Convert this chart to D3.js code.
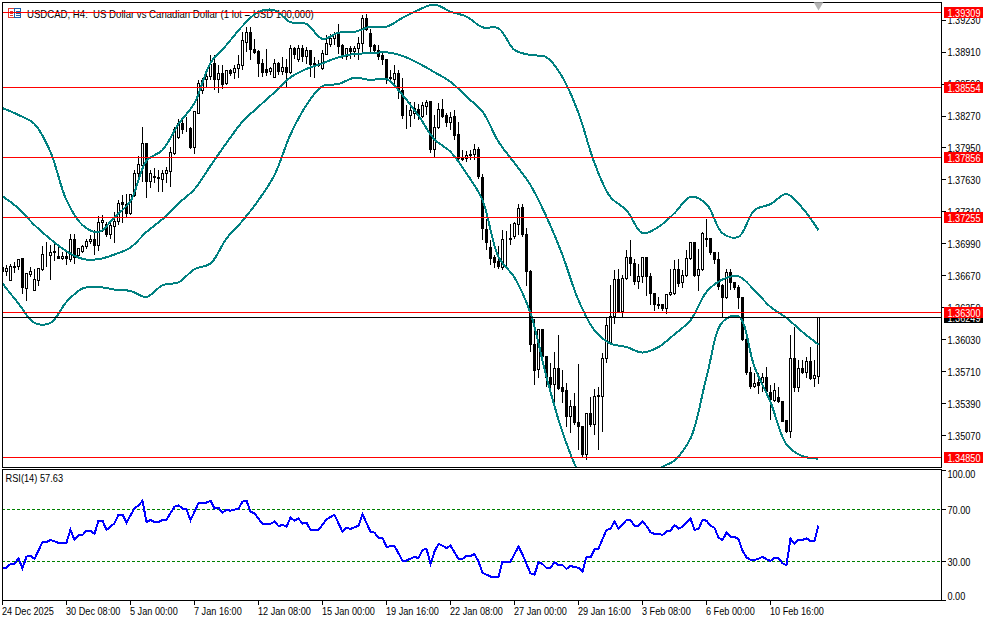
<!DOCTYPE html>
<html><head><meta charset="utf-8">
<script src="https://cdn.jsdelivr.net/npm/d3@7"></script>
<style>html,body{margin:0;padding:0;background:#fff}svg{display:block}text{font-family:"Liberation Sans",sans-serif;font-size:10.5px;fill:#000}</style>
</head><body><div id="chart"></div>
<script>
const titleText="USDCAD, H4:  US Dollar vs Canadian Dollar (1 lot = USD 100,000)";
const rsiLabel="RSI(14) 57.63";
const timeLabels=["24 Dec 2025","30 Dec 08:00","5 Jan 00:00","7 Jan 16:00","12 Jan 08:00","15 Jan 00:00","19 Jan 16:00","22 Jan 08:00","27 Jan 00:00","29 Jan 16:00","3 Feb 08:00","6 Feb 00:00","10 Feb 16:00"];
const priceTicks=[1.3923,1.3891,1.3859,1.3827,1.3795,1.3763,1.3731,1.3699,1.3667,1.3635,1.3603,1.3571,1.3539,1.3507];
const levels=[1.39309,1.38554,1.37856,1.37255,1.363,1.3485];
const lastPrice=1.36249;
const rsiTicks=[100,70,30,0];
const rsiLevels=[70,30];
const opens=[136755,136715,136625,136765,136759,136839,136545,136679,136525,136625,
136732,136882,136872,136912,136865,136842,136865,136832,137038,136872,
136912,136962,137012,137038,136972,137205,137182,137082,137165,137215,
137408,137388,137291,137471,137693,137776,137992,137616,137666,137656,
137633,137693,137710,137893,138059,138199,138149,138142,137956,138299,
138525,138632,138665,138798,138632,138692,138599,138722,138705,138748,
138778,139008,139108,138938,138915,138798,138732,138715,138658,138798,
138712,138758,138708,138948,138838,138948,138865,138922,138782,138775,
138748,138882,138981,139048,139098,138971,138865,138948,138915,138941,
138991,139248,139091,138971,138925,138872,138838,138652,138632,138692,
138525,138280,138275,138299,138332,138265,138365,138415,137939,138159,
138332,138272,138206,138265,138082,137849,137849,137889,137883,137933,
137659,137138,136958,136852,136812,136758,137031,137048,137065,137188,
137358,137081,136712,135983,135733,136132,135866,135650,135583,135739,
135550,135520,135267,135360,135207,135160,134884,135293,135180,135460,
135460,135839,135989,136259,136632,136316,136639,136852,136792,136615,
136659,136852,136659,136492,136385,136382,136345,136479,136492,136732,
136599,136672,136848,137005,136672,136738,137048,137048,136908,136838,
136572,136449,136705,136605,136555,136449,136032,135706,135560,135600,
135600,135650,135500,135426,135450,135410,135223,135117,135839,135556,
135739,135699,135809,135646,135666];
const highs=[136765,136782,136789,136815,136839,136849,136689,136759,136745,136739,
136972,137015,136982,136992,136965,136915,136915,137092,137092,136948,
136982,137048,137082,137132,137271,137281,137215,137205,137315,137431,
137481,137491,137491,137731,137873,138166,138000,137733,137750,137733,
137733,137766,137966,138166,138249,138266,138266,138166,138316,138632,
138658,138715,138882,138882,138782,138782,138732,138748,138782,138882,
139115,139165,139165,139048,138932,138848,138948,138765,138848,138815,
138865,138848,138981,138965,138981,138981,138965,138932,138865,138832,
138932,139081,139098,139115,139198,138991,138955,138971,138971,139065,
139288,139291,139148,138998,138981,138915,138838,138738,138788,138738,
138658,138382,138415,138415,138399,138415,138432,138415,138289,138405,
138449,138305,138315,138339,138216,137939,137926,137933,137999,137966,
137699,137248,137032,136882,136972,137131,137125,137198,137215,137398,
137398,137158,136738,136239,136139,136139,135873,135799,135916,136082,
135733,135600,135433,135500,135793,135167,135300,135466,135540,135566,
135899,136259,136582,136738,136748,136682,136938,137032,136848,136798,
136865,136865,136699,136499,136459,136382,136482,136748,136838,136848,
136732,136932,137015,137015,136948,137115,137248,137055,136915,136915,
136589,136748,136748,136615,136582,136459,136049,135766,135700,135700,
135700,135766,135583,135600,135566,135416,135233,136082,136166,135833,
135833,135866,135966,135833,136249];
const lows=[136682,136672,136625,136699,136732,136492,136426,136659,136525,136572,
136725,136765,136632,136825,136845,136832,136782,136815,136792,136849,
136899,136948,136992,136882,136922,137115,137065,137048,137005,137182,
137208,137265,137281,137465,137616,137616,137450,137550,137600,137516,
137516,137600,137566,137883,138049,138099,138116,137949,137893,138299,
138499,138558,138632,138539,138505,138548,138582,138672,138642,138658,
138738,138915,138832,138898,138665,138665,138672,138682,138658,138682,
138682,138558,138698,138848,138815,138815,138798,138665,138658,138765,
138738,138882,138965,138981,138898,138848,138838,138848,138865,138838,
138898,139121,138898,138905,138838,138782,138598,138615,138582,138449,
138249,138149,138166,138249,138232,138259,138282,137906,137866,138149,
138259,138166,138139,138032,137839,137823,137816,137833,137833,137649,
137033,136938,136782,136758,136748,136732,136765,136982,137048,137081,
137065,136572,135916,135583,135650,135849,135566,135533,135400,135533,
135400,135167,135100,135183,134934,134850,134827,135167,135083,134934,
135117,135799,135983,136192,136299,136249,136632,136672,136582,136539,
136605,136472,136382,136325,136339,136325,136292,136472,136482,136565,
136549,136665,136838,136659,136525,136725,136965,136882,136792,136532,
136249,136439,136532,136532,136339,136026,135683,135540,135550,135493,
135516,135500,135233,135416,135400,135210,135100,135050,135516,135516,
135693,135650,135633,135560,135593];
const closes=[136715,136739,136759,136752,136832,136549,136689,136709,136632,136739,
136882,136885,136905,136899,136845,136865,136845,137038,136849,136948,
136968,137018,137038,136972,137208,137225,137082,137175,137215,137398,
137388,137291,137481,137691,137783,137992,137616,137693,137650,137640,
137693,137720,137900,138132,138199,138132,138140,137956,138316,138599,
138625,138665,138788,138632,138692,138582,138722,138692,138748,138782,
139021,139108,138932,138905,138798,138705,138705,138748,138798,138715,
138758,138708,138948,138882,138948,138865,138922,138788,138798,138782,
138892,138998,139048,139088,138965,138865,138948,138915,138948,138998,
139248,139131,138965,138921,138865,138832,138658,138645,138692,138525,
138272,138278,138322,138349,138275,138372,138409,137933,138159,138332,
138265,138206,138259,138076,137849,137833,137879,137873,137933,137666,
137140,137000,136845,136805,136765,137038,137036,137031,137191,137348,
137081,136715,135983,135726,136132,135866,135650,135583,135739,135546,
135516,135267,135360,135207,135160,134884,135293,135180,135460,135473,
135839,136172,136259,136632,136316,136639,136858,136792,136615,136659,
136852,136659,136492,136382,136378,136342,136482,136499,136732,136592,
136678,136848,137005,136675,136738,137098,137038,136905,136838,136565,
136449,136705,136605,136555,136449,136032,135706,135566,135590,135576,
135650,135516,135433,135523,135410,135217,135117,135839,135556,135739,
135699,135809,135643,135676,136249];
const bandBars=[0,4,8,12,16,20,24,28,32,36,40,44,48,52,56,60,64,68,72,76,80,84,88,92,96,100,104,108,112,116,120,124,128,132,136,140,144,148,152,156,160,164,168,172,176,180,184,188,192,196,200,204];
const bandUpper=[138350,138280,138190,137909,137428,137178,137107,137258,137418,137822,137929,138190,138400,138801,138981,139171,139312,139329,139209,139192,139041,139104,139111,139164,139164,139252,139332,139385,139315,139265,139158,139148,138931,138881,138858,138657,138300,137799,137458,137328,137097,137160,137298,137461,137388,137097,137060,137328,137388,137488,137348,137127];
const bandMiddle=[137468,137345,137178,137037,136917,136840,136837,136884,136954,137110,137238,137395,137538,137772,138000,138213,138363,138507,138657,138741,138798,138858,138891,138898,138908,138871,138798,138708,138613,138463,138313,138012,137799,137578,137261,136877,136426,136125,135992,135958,135902,135958,136085,136226,136509,136633,136666,136526,136359,136249,136108,135982];
const bandLower=[136593,136393,136199,136199,136409,136543,136559,136533,136519,136459,136576,136606,136737,136794,137044,137221,137428,137679,138086,138380,138570,138590,138653,138630,138640,138480,138273,138036,137912,137696,137428,136860,136653,136296,135658,135106,134703,134472,134322,134222,134172,134723,134823,135043,135654,136209,136266,135758,135407,134983,134866,134840];
const rsiBars=[0,1,2,3,4,5,6,7,8,10,11,12,14,16,17,18,19,20,21,22,23,24,25,26,28,29,30,31,33,34,35,36,37,38,39,40,41,43,44,45,46,47,49,51,52,53,54,55,56,57,59,60,61,62,63,65,67,68,69,70,71,72,73,74,75,76,77,79,81,83,85,86,87,89,90,92,93,94,95,96,98,100,101,103,104,105,106,107,108,109,110,111,112,114,115,116,117,118,119,120,122,124,125,127,129,130,131,132,133,134,135,136,137,138,139,140,141,142,143,144,145,146,147,148,149,150,151,152,153,154,156,157,158,159,160,161,162,163,164,165,166,167,168,169,170,172,173,174,175,176,177,178,179,180,181,182,183,184,185,186,187,188,189,190,191,192,193,194,195,196,197,198,199,200,201,202,203,204];
const rsiValues=[24.8,25.3,28.1,28.4,32.2,24.8,33.7,34.5,32.0,45.0,45.0,46.6,44.3,44.5,54.5,46.6,50.4,50.4,53.7,53.7,51.2,61.4,61.4,54.3,59.4,66.0,66.0,59.9,70.9,73.0,76.8,60.4,61.9,60.4,60.4,61.9,62.2,72.2,73.2,70.7,70.4,61.7,75.0,75.3,76.8,70.7,71.4,67.6,69.6,69.1,70.7,76.0,76.8,68.4,67.1,58.9,58.9,60.7,57.3,58.1,56.8,63.7,61.4,63.0,59.1,59.9,54.3,54.3,62.5,66.0,52.7,56.0,55.0,57.6,66.3,53.0,52.2,48.3,48.1,41.4,41.9,30.7,30.7,33.7,32.5,38.9,39.9,28.1,37.6,43.5,42.2,40.4,42.2,32.0,32.0,34.3,34.3,35.8,29.9,21.4,18.4,18.4,29.9,29.9,41.4,35.5,28.1,20.9,19.9,29.4,28.1,25.0,25.0,29.4,27.3,27.3,24.2,26.8,25.5,25.3,22.2,33.7,33.2,39.4,39.9,47.1,54.3,55.3,60.7,55.3,61.9,61.9,57.3,57.3,60.7,57.3,52.5,51.2,51.2,50.4,53.2,53.7,58.1,55.3,56.8,63.0,54.3,55.0,61.9,61.4,57.6,56.0,48.3,46.6,52.2,49.1,49.1,47.1,38.4,33.2,31.2,31.2,32.2,33.7,31.7,30.4,33.0,32.5,28.6,27.3,47.6,43.5,46.6,46.6,47.8,45.8,45.8,57.63];

const W=994,H=622,left=2,right=941,mainTop=2,mainBottom=467,rsiTop=469,rsiBottom=600;
const svg=d3.select("#chart").append("svg").attr("width",W).attr("height",H);
const x=d3.scaleLinear().domain([0,204]).range([2.5,818.5]);
const y=d3.scaleLinear().domain([1.39309,1.3485]).range([12.2,457.7]);
const yRsi=d3.scaleLinear().domain([0,100]).range([600.5,470.5]);
const snap=v=>Math.floor(v)+.5;
const P=v=>v/100000;
const fit=(sel,ratio)=>sel.each(function(){const n=this.getComputedTextLength();d3.select(this).attr("textLength",n*ratio).attr("lengthAdjust","spacingAndGlyphs");});
svg.append("defs").append("clipPath").attr("id","mainClip").append("rect").attr("x",left+1).attr("y",mainTop+1).attr("width",right-left-1).attr("height",mainBottom-mainTop-1);
svg.select("defs").append("clipPath").attr("id","rsiClip").append("rect").attr("x",left+1).attr("y",rsiTop+1).attr("width",right-left-1).attr("height",rsiBottom-rsiTop-1);

// title and icon sit under the marks
const icon=svg.append("g").attr("shape-rendering","crispEdges").attr("fill","none");
icon.append("rect").attr("x",8.5).attr("y",8.5).attr("width",6).attr("height",9).attr("stroke","#e03a30");
icon.append("rect").attr("x",14.5).attr("y",8.5).attr("width",6).attr("height",9).attr("stroke","#1a5fa8");
[11,13,15].forEach(v=>{icon.append("path").attr("d",`M10 ${v}.5H13`).attr("stroke","#e03a30");icon.append("path").attr("d",`M16 ${v}.5H20`).attr("stroke","#1a5fa8");});
fit(svg.append("text").attr("x",27).attr("y",17.5).style("white-space","pre").text(titleText),.914);

// candles
const main=svg.append("g").attr("clip-path","url(#mainClip)");
const candles=main.append("g").attr("shape-rendering","crispEdges").selectAll("g").data(opens.map((o,i)=>({i,o:P(o),h:P(highs[i]),l:P(lows[i]),c:P(closes[i])}))).join("g");
candles.append("line").attr("x1",d=>x(d.i)).attr("x2",d=>x(d.i)).attr("y1",d=>snap(y(d.h))).attr("y2",d=>snap(y(d.l))+.5).attr("stroke","#000");
candles.append("rect").attr("x",d=>x(d.i)-1).attr("width",2)
 .attr("y",d=>snap(y(Math.max(d.o,d.c)))).attr("height",d=>Math.max(0,snap(y(Math.min(d.o,d.c)))-snap(y(Math.max(d.o,d.c)))))
 .attr("fill",d=>d.c>d.o?"#fff":"#000").attr("stroke","#000");

// bollinger
const bandLine=d3.line().x(d=>x(d[0])).y(d=>y(d[1])).curve(d3.curveCatmullRom.alpha(.5));
[bandUpper,bandMiddle,bandLower].forEach(b=>{
 main.append("path").attr("d",bandLine(b.map((v,i)=>[bandBars[i],P(v)]))).attr("fill","none").attr("stroke","#008080").attr("stroke-width",2).attr("shape-rendering","crispEdges");
});
// horizontals
main.append("g").attr("shape-rendering","crispEdges").selectAll("line").data(levels).join("line")
 .attr("x1",left).attr("x2",right).attr("y1",d=>snap(y(d))).attr("y2",d=>snap(y(d))).attr("stroke","#ff0000");
main.append("line").attr("x1",left).attr("x2",right).attr("y1",snap(y(lastPrice))).attr("y2",snap(y(lastPrice))).attr("stroke","#000").attr("shape-rendering","crispEdges");

// rsi
const rsi=svg.append("g").attr("clip-path","url(#rsiClip)");
rsi.append("g").attr("shape-rendering","crispEdges").selectAll("line").data(rsiLevels).join("line")
 .attr("x1",left).attr("x2",right).attr("y1",d=>snap(yRsi(d))).attr("y2",d=>snap(yRsi(d))).attr("stroke","#008000").attr("stroke-dasharray","3,2");
rsi.append("path").attr("d",d3.line().x(d=>x(d[0])).y(d=>yRsi(d[1]))(rsiBars.map((b,i)=>[b,rsiValues[i]]))).attr("fill","none").attr("stroke","#0000ff").attr("stroke-width",2).attr("shape-rendering","crispEdges");
fit(svg.append("text").attr("x",5.5).attr("y",482).text(rsiLabel),.88);

// frames
const frames=svg.append("g").attr("shape-rendering","crispEdges").attr("fill","none").attr("stroke","#000");
frames.append("rect").attr("x",left+.5).attr("y",mainTop+.5).attr("width",right-left).attr("height",mainBottom-mainTop);
frames.append("rect").attr("x",left+.5).attr("y",rsiTop+.5).attr("width",right-left).attr("height",rsiBottom-rsiTop);

// chart shift marker
svg.append("path").attr("d",d3.symbol(d3.symbolTriangle,40)()).attr("transform",`translate(${x(204)},5) rotate(180)`).attr("fill","#b4b4b4");

// price axis
const axisX=right+.5;
const pAxis=svg.append("g");
pAxis.selectAll("line").data(priceTicks).join("line").attr("x1",axisX).attr("x2",axisX+4).attr("y1",d=>snap(y(d))).attr("y2",d=>snap(y(d))).attr("stroke","#000").attr("shape-rendering","crispEdges");
fit(pAxis.selectAll("text").data(priceTicks).join("text").attr("x",947.5).attr("y",d=>y(d)+4).text(d=>d.toFixed(5)),.87);
const priceTag=(v,fill)=>{
 const c=snap(y(v));
 svg.append("rect").attr("x",944).attr("y",c-5.5).attr("width",39).attr("height",11).attr("fill",fill).attr("shape-rendering","crispEdges");
 fit(svg.append("text").attr("x",947.5).attr("y",c+4).style("fill","#fff").text(v.toFixed(5)),.87);
};
priceTag(lastPrice,"#000");
levels.forEach(v=>priceTag(v,"#ff0000"));

// rsi axis
const rAxis=svg.append("g");
rAxis.selectAll("line").data(rsiTicks).join("line").attr("x1",axisX).attr("x2",axisX+4).attr("y1",d=>snap(yRsi(d))).attr("y2",d=>snap(yRsi(d))).attr("stroke","#000").attr("shape-rendering","crispEdges");
fit(rAxis.selectAll("text").data(rsiTicks).join("text").attr("x",947.5)
 .attr("y",d=>d===100?478:d===0?600:yRsi(d)+4).text(d=>d.toFixed(2)),.87);

// time axis
const tAxis=svg.append("g");
const tickBars=timeLabels.map((_,i)=>i*16);
tAxis.selectAll("line").data(tickBars).join("line").attr("x1",d=>x(d)).attr("x2",d=>x(d)).attr("y1",rsiBottom).attr("y2",rsiBottom+5).attr("stroke","#000").attr("shape-rendering","crispEdges");
fit(tAxis.selectAll("text").data(timeLabels).join("text").attr("x",(d,i)=>x(tickBars[i])-.5).attr("y",614.5).text(d=>d),.87);
</script></body></html>
